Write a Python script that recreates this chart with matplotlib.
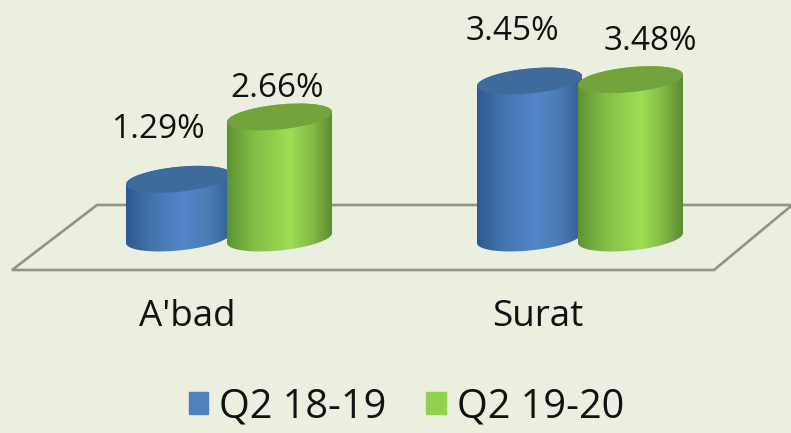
import matplotlib
matplotlib.use('Agg')
import matplotlib.pyplot as plt
import numpy as np
from matplotlib.patches import Patch, PathPatch
from matplotlib.path import Path
from matplotlib.colors import LinearSegmentedColormap

plt.rcParams['font.family'] = ['Open Sans', 'DejaVu Sans']

categories = ["A'bad", 'Surat']
series_names = ['Q2 18-19', 'Q2 19-20']
q2_1819 = [1.29, 3.45]
q2_1920 = [2.66, 3.48]

bg = '#ebefdf'
px_x = 351.0    # pixels per category step
px_y = 45.5     # pixels per percent
x0_px = 229.0
y0_px = 238.0
W, H = 791, 433

fig = plt.figure(figsize=(W / 100, H / 100), dpi=100, facecolor=bg)
ax = fig.add_axes([0, 0, 1, 1])
ax.set_xlim(-x0_px / px_x, (W - x0_px) / px_x)
ax.set_ylim((y0_px - H) / px_y, y0_px / px_y)
ax.axis('off')

blue_cmap = LinearSegmentedColormap.from_list('b', [
    (0, '#2c5a90'), (0.22, '#4272ab'), (0.55, '#5387cb'), (0.8, '#4a7ab2'), (1, '#315f92')])
green_cmap = LinearSegmentedColormap.from_list('g', [
    (0, '#5c9331'), (0.25, '#82bd46'), (0.6, '#9fde54'), (0.82, '#80b844'), (1, '#5a8b30')])


def cylinder(xc, value, cmap, top_color, z):
    # half width, ellipse half height and tilt are given in pixels, then scaled to the data
    a = 52.5 / px_x
    b = 12.5 / px_y
    tilt = 5.0 / px_y
    t = np.linspace(0, 2 * np.pi, 121)
    ex = a * np.cos(t)
    ey = b * np.sin(t) + tilt * np.cos(t)

    # outline of the body: lower half of the bottom ellipse, upper half of the top one
    low = t[60:121]
    up = t[0:61]
    body_x = np.r_[xc + a * np.cos(low), xc + a * np.cos(up)]
    body_y = np.r_[b * np.sin(low) + tilt * np.cos(low), value + b * np.sin(up) + tilt * np.cos(up)]
    clip = PathPatch(Path(np.c_[body_x, body_y]), transform=ax.transData, fc='none', ec='none')
    ax.add_patch(clip)

    grad = np.linspace(0, 1, 256).reshape(1, -1)
    im = ax.imshow(grad, cmap=cmap, extent=[xc - a, xc + a, -b - tilt, value + b + tilt],
                   aspect='auto', zorder=z, interpolation='bilinear')
    im.set_clip_path(clip)

    ax.fill(xc + ex, value + ey, color=top_color, lw=0, zorder=z + 0.1)


# floor of the chart
floor_px_x = [791, 97, 12, 714, 791]
floor_px_y = [205, 205, 270, 270, 206]
ax.plot((np.array(floor_px_x) - x0_px) / px_x, (y0_px - np.array(floor_px_y)) / px_y,
        color='#8f938a', lw=1.9, solid_joinstyle='miter', zorder=1)

xpos = np.arange(len(categories))
off = 50.5 / px_x
z = 2
for i in xpos:
    cylinder(i - off, q2_1819[i], blue_cmap, '#3e6a9c', z)
    cylinder(i + off, q2_1920[i], green_cmap, '#72a33c', z + 1)
    z += 2
ax.set_xlim(-x0_px / px_x, (W - x0_px) / px_x)
ax.set_ylim((y0_px - H) / px_y, y0_px / px_y)

# data labels, nudged by hand like in the original
nudge_a = [(-20, 50), (-17, 50)]
nudge_b = [(-2, 28), (20, 38)]
for i in xpos:
    ax.annotate(f'{q2_1819[i]:.2f}%', (i - off, q2_1819[i]), xytext=nudge_a[i],
                textcoords='offset pixels', ha='center', va='center', fontsize=24,
                color='#111111', zorder=20)
    ax.annotate(f'{q2_1920[i]:.2f}%', (i + off, q2_1920[i]), xytext=nudge_b[i],
                textcoords='offset pixels', ha='center', va='center', fontsize=24,
                color='#111111', zorder=20)

for i, name in enumerate(categories):
    ax.annotate(name, (i, 0), xytext=(-42, -79), textcoords='offset pixels',
                ha='center', va='center', fontsize=26.5, color='#111111')

handles = [Patch(color='#4f81bd', label=series_names[0]), Patch(color='#92d050', label=series_names[1])]
leg = ax.legend(handles=handles, loc='lower center', bbox_to_anchor=(0.514, -0.032), ncol=2, frameon=False,
                fontsize=28.5, handlelength=0.5, handleheight=0.5, handletextpad=0.28,
                columnspacing=1.0, borderpad=0, labelcolor='#111111')

plt.savefig('out.png', dpi=100, facecolor=bg)
